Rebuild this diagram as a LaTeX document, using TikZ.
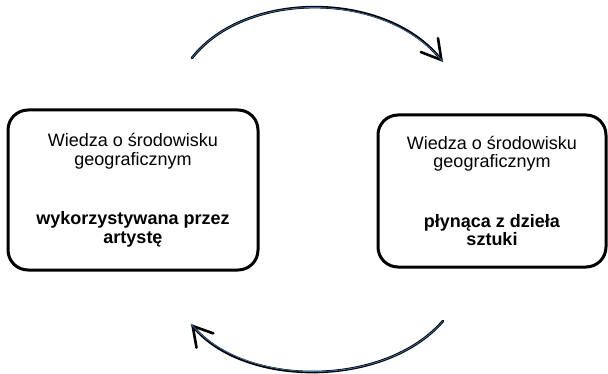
\documentclass[tikz,border=0pt]{standalone}
\usepackage{fontspec}
\setmainfont{Liberation Sans}
\usetikzlibrary{arrows.meta}
\definecolor{arccore}{HTML}{3A6A9E}
\tikzset{
  box/.style={draw=black, line width=3pt, rounded corners=20pt, inner sep=0pt,
    align=center, font=\fontsize{18}{18.5}\selectfont},
  cyc/.style={draw=black, line width=2.6pt, line cap=round,
    -{Straight Barb[length=19pt,width=22pt,line cap=round]},
    postaction={draw=arccore, line width=0.8pt, -}}
}
\begin{document}
\begin{tikzpicture}[x=1pt,y=1pt]
\useasboundingbox (0,0) rectangle (608,373);
\node[box, minimum width=250pt, minimum height=160pt] (L) at (133,183)
  {Wiedza o środowisku\\geograficznym\\[41pt]\textbf{wykorzystywana przez}\\\textbf{artystę}};
\node[box, minimum width=228pt, minimum height=152pt] (R) at (492,182)
  {Wiedza o środowisku\\geograficznym\\[41pt]\textbf{płynąca z dzieła}\\\textbf{sztuki}};
\coordinate (a1) at (192,315);
\coordinate (a2) at (443,311);
\coordinate (b1) at (443,52);
\coordinate (b2) at (191,49);
\draw[cyc] (a1) .. controls (245,383) and (385,383) .. (a2);
\draw[cyc] (b1) .. controls (385,-15) and (245,-15) .. (b2);
\end{tikzpicture}
\end{document}
